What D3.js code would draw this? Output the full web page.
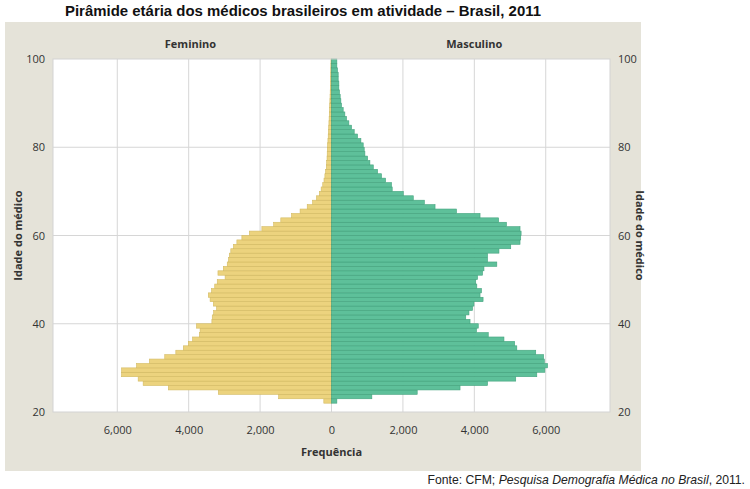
<!DOCTYPE html>
<html>
<head>
<meta charset="utf-8">
<script src="https://cdn.jsdelivr.net/npm/d3@7"></script>
<style>
  body { margin: 0; background: #fff; }
  svg { display: block; }
</style>
</head>
<body>
<div class="container"></div>
<script>
const WIDTH = 750;
const HEIGHT = 489;
const PLOT = { left: 53, right: 610, top: 59, bottom: 412 };

// age of each bar (one bar per year of age)
const ages = [22,23,24,25,26,27,28,29,30,31,32,33,34,35,36,37,38,39,40,41,
  42,43,44,45,46,47,48,49,50,51,52,53,54,55,56,57,58,59,60,61,
  62,63,64,65,66,67,68,69,70,71,72,73,74,75,76,77,78,79,80,81,
  82,83,84,85,86,87,88,89,90,91,92,93,94,95,96,97,98,99];

const feminino = [215,1480,3170,4570,5275,5415,5880,5880,5460,5100,4670,4360,4150,4010,3890,3700,3680,3780,3350,3340,
  3300,3220,3310,3400,3450,3360,3270,3200,2980,3180,3030,2920,2885,2860,2820,2745,2650,2510,2300,1950,
  1620,1420,1120,880,680,530,420,340,290,245,210,185,165,145,135,125,120,115,110,100,
  92,85,78,72,66,60,55,50,45,40,36,32,28,25,22,20,18,15];

const masculino = [150,1130,2400,3600,4370,5160,5750,5975,6050,5960,5940,5720,5190,5130,4830,4390,4060,4110,3880,3760,
  3850,3950,3990,4245,4160,4200,4070,4040,4090,4230,4270,4630,4370,4370,4690,5020,5280,5300,5310,5280,
  4900,4680,4160,3500,2900,2600,2290,2010,1700,1680,1515,1400,1290,1170,1075,1010,935,916,888,823,
  729,636,561,486,420,374,327,280,262,243,224,206,206,187,187,168,150,150];

const xTicks = [-6000,-4000,-2000,0,2000,4000,6000];
const yTicks = [20,40,60,80,100];

const title = 'Pirâmide etária dos médicos brasileiros em atividade – Brasil, 2011';

var svg = d3.select('.container').append('svg')
  .attr('width', WIDTH)
  .attr('height', HEIGHT);

// grey panel
svg.append('rect')
  .attr('x', 5).attr('y', 22)
  .attr('width', 636).attr('height', 449)
  .attr('fill', '#e5e3d9');

svg.append('text')
  .attr('x', 65).attr('y', 16)
  .attr('font-family', 'Liberation Sans, Arial, sans-serif')
  .attr('font-weight', 'bold')
  .attr('font-size', 14)
  .attr('textLength', 476)
  .attr('lengthAdjust', 'spacingAndGlyphs')
  .attr('fill', '#111')
  .text(title);

var xScale = d3.scaleLinear()
  .domain([-7800, 7800])
  .range([PLOT.left, PLOT.right]);

var yScale = d3.scaleLinear()
  .domain([20, 100])
  .range([PLOT.bottom, PLOT.top]);

// plot background
svg.append('rect')
  .attr('x', PLOT.left).attr('y', PLOT.top)
  .attr('width', PLOT.right - PLOT.left)
  .attr('height', PLOT.bottom - PLOT.top)
  .attr('fill', '#fff');

// grid lines
var grid = svg.append('g').attr('class', 'grid');
grid.selectAll('line.v')
  .data(xTicks)
  .enter().append('line')
  .attr('x1', d => xScale(d)).attr('x2', d => xScale(d))
  .attr('y1', PLOT.top).attr('y2', PLOT.bottom)
  .attr('stroke', '#d6d6d6').attr('stroke-width', 1);
grid.selectAll('line.h')
  .data(yTicks.filter(d => d > 20 && d < 100))
  .enter().append('line')
  .attr('x1', PLOT.left).attr('x2', PLOT.right)
  .attr('y1', d => yScale(d)).attr('y2', d => yScale(d))
  .attr('stroke', '#d6d6d6').attr('stroke-width', 1);

// bars
var bars = svg.append('g').attr('class', 'bars');
bars.selectAll('rect.fem')
  .data(ages)
  .enter().append('rect')
  .attr('class', 'fem')
  .attr('x', (d, i) => xScale(-feminino[i]))
  .attr('width', (d, i) => xScale(0) - xScale(-feminino[i]))
  .attr('y', d => yScale(d + 1))
  .attr('height', d => yScale(d) - yScale(d + 1))
  .attr('fill', '#ecd37e')
  .attr('stroke', '#d3ba62')
  .attr('stroke-width', 0.6);

bars.selectAll('rect.mas')
  .data(ages)
  .enter().append('rect')
  .attr('class', 'mas')
  .attr('x', xScale(0))
  .attr('width', (d, i) => xScale(masculino[i]) - xScale(0))
  .attr('y', d => yScale(d + 1))
  .attr('height', d => yScale(d) - yScale(d + 1))
  .attr('fill', '#5ec09a')
  .attr('stroke', '#43a27d')
  .attr('stroke-width', 0.6);

// plot frame
svg.append('rect')
  .attr('x', PLOT.left).attr('y', PLOT.top)
  .attr('width', PLOT.right - PLOT.left)
  .attr('height', PLOT.bottom - PLOT.top)
  .attr('fill', 'none')
  .attr('stroke', '#d3d3d3');

var FONT = 'Open Sans, Noto Sans, sans-serif';

// axes
var xAxis = d3.axisBottom(xScale)
  .tickValues(xTicks)
  .tickSize(0)
  .tickPadding(14)
  .tickFormat(d => d3.format(',')(Math.abs(d)));
var gx = svg.append('g')
  .attr('transform', 'translate(0,' + PLOT.bottom + ')')
  .call(xAxis);

var yAxisL = d3.axisLeft(yScale).tickValues(yTicks).tickSize(0).tickPadding(8);
var gyl = svg.append('g')
  .attr('transform', 'translate(' + PLOT.left + ',0)')
  .call(yAxisL);

var yAxisR = d3.axisRight(yScale).tickValues(yTicks).tickSize(0).tickPadding(8);
var gyr = svg.append('g')
  .attr('transform', 'translate(' + PLOT.right + ',0)')
  .call(yAxisR);

[gx, gyl, gyr].forEach(function(g) {
  g.select('.domain').remove();
  g.selectAll('text')
    .attr('font-family', FONT)
    .attr('font-size', 11)
    .attr('fill', '#333');
});

// labels
function label(x, y, txt, rot) {
  var t = svg.append('text')
    .attr('text-anchor', 'middle')
    .attr('font-family', FONT)
    .attr('font-weight', 'bold')
    .attr('font-size', 11)
    .attr('fill', '#333')
    .text(txt);
  if (rot) {
    t.attr('transform', 'translate(' + x + ',' + y + ') rotate(' + rot + ')');
  } else {
    t.attr('x', x).attr('y', y);
  }
  return t;
}

label(xScale(-3950), 48, 'Feminino');
label(xScale(4000), 48, 'Masculino');
label(xScale(0), 456, 'Frequência');
label(22, yScale(60), 'Idade do médico', -90);
label(636, yScale(60), 'Idade do médico', 90);

// source
var src = svg.append('text')
  .attr('x', 745).attr('y', 484)
  .attr('text-anchor', 'end')
  .attr('font-family', 'Liberation Sans, Arial, sans-serif')
  .attr('font-size', 12.2)
  .attr('fill', '#222');
src.append('tspan').text('Fonte: CFM; ');
src.append('tspan').attr('font-style', 'italic').text('Pesquisa Demografia Médica no Brasil');
src.append('tspan').text(', 2011.');
</script>
</body>
</html>
